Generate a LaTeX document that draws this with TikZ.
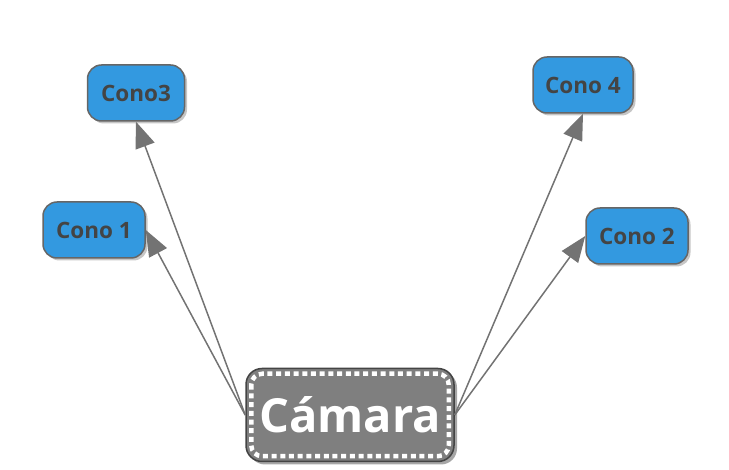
\documentclass[tikz,border=0pt]{standalone}
\usepackage{fontspec}
\setmainfont{Open Sans}
\usetikzlibrary{arrows.meta,shadows}
\definecolor{conoazul}{HTML}{3399E0}
\definecolor{bordegris}{HTML}{666666}
\definecolor{flechagris}{HTML}{737373}
\definecolor{textogris}{HTML}{444444}
\definecolor{camgris}{HTML}{7F7F7F}
\begin{document}
\begin{tikzpicture}[x=1pt,y=-1pt,
  cono/.style={draw=bordegris, line width=1.5pt, fill=conoazul,
    rounded corners=14pt, minimum width=100pt, minimum height=56pt,
    text=textogris, font=\fontsize{22.5}{27}\selectfont\bfseries,
    drop shadow={shadow xshift=2.5pt, shadow yshift=-2.5pt, opacity=0.45}},
  camara/.style={draw=textogris, line width=1.5pt, fill=camgris,
    rounded corners=16pt, minimum width=208pt, minimum height=93pt,
    text=white, font=\fontsize{47}{56}\selectfont\bfseries,
    drop shadow={shadow xshift=3pt, shadow yshift=-3pt, opacity=0.7}},
  flecha/.style={draw=flechagris, line width=1.5pt,
    -{Triangle[length=26pt,width=20pt]}}]
  \useasboundingbox (0,0) rectangle (729,470);

  % Conos.
  \node[cono, minimum width=97pt] (cono3) at (136,93) {Cono3};
  \node[cono, minimum width=102pt] (cono1) at (94,230) {Cono 1};
  \node[cono] (cono4) at (583,85) {Cono 4};
  \node[cono, minimum width=102pt] (cono2) at (637,236) {Cono 2};

  % Camara con borde punteado.
  \node[camara] (cam) at (350,415) {Cámara};
  \draw[white, line width=4.5pt, dash pattern=on 5pt off 3.7pt, rounded corners=11pt]
    ([shift={(6,6)}]cam.north west) rectangle ([shift={(-6,-6)}]cam.south east);

  % Conexiones.
  \draw[flecha] (cam.west) -- (cono3.south);
  \draw[flecha] (cam.west) -- (cono1.east);
  \draw[flecha] (cam.east) -- (cono4.south);
  \draw[flecha] (cam.east) -- (cono2.west);
\end{tikzpicture}
\end{document}
